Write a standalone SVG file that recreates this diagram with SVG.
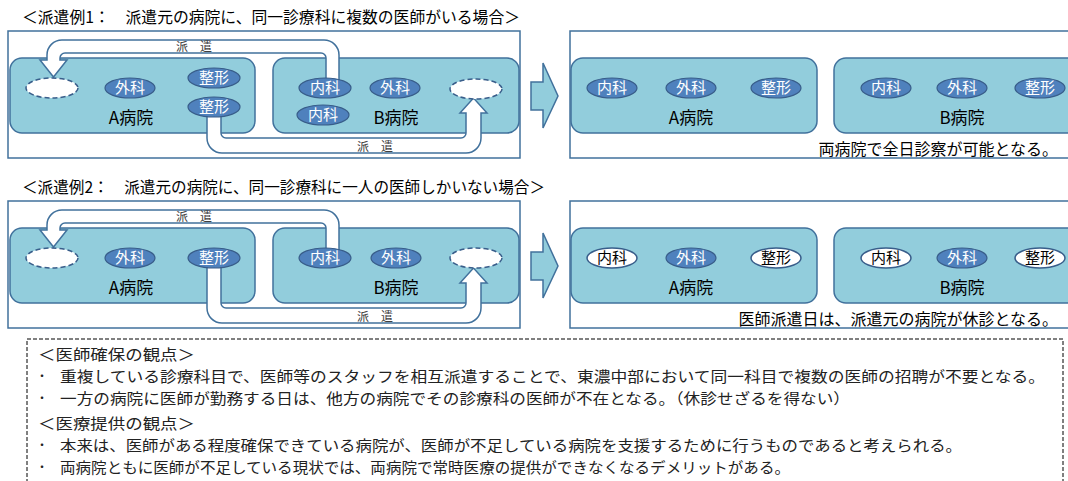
<svg xmlns="http://www.w3.org/2000/svg" width="1068" height="481" viewBox="0 0 1068 481">
<style>
text{font-family:"Noto Sans CJK JP","Noto Sans",sans-serif}
.outer{fill:#fff;stroke:#41719c;stroke-width:1.5}
.hosp{fill:#92cddc;stroke:#41719c;stroke-width:1.5}
.dept{fill:#4f81bd;stroke:#385d8a;stroke-width:1.2}
.deptw{fill:#fff;stroke:#385d8a;stroke-width:1.5}
.empty{fill:#fff;stroke:#385d8a;stroke-width:1.5;stroke-dasharray:5 3}
.arrow{fill:#fff;stroke:#41719c;stroke-width:1.5}
.big{fill:#92cddc;stroke:#41719c;stroke-width:1.5}
.dt{font-size:15px;fill:#fff;text-anchor:middle}
.dtb{font-size:15px;fill:#000;text-anchor:middle}
.ht{font-size:17px;fill:#000;text-anchor:middle}
.lbl{font-size:12px;fill:#404040;text-anchor:middle}
.title{font-size:16px;fill:#000}
.note{font-size:16px;fill:#000;text-anchor:end}
.body{font-size:15px;fill:#222}
.bul{font-size:12px;fill:#222;text-anchor:middle}
</style>

<!-- Section 1 -->
<text class="title" x="22" y="23" textLength="498" lengthAdjust="spacingAndGlyphs">＜派遣例1：　派遣元の病院に、同一診療科に複数の医師がいる場合＞</text>
<g id="frame1-left"><rect class="outer" x="8" y="31" width="512" height="127"/></g>
<g id="frame1-right"><rect class="outer" x="570" y="31" width="520" height="127"/>
<text class="note" x="1058" y="155">両病院で全日診察が可能となる。</text></g>
<g id="hospA1"><rect class="hosp" x="10" y="58" width="245" height="75" rx="12"/><text class="ht" x="131" y="124">A病院</text></g>
<g id="hospB1"><rect class="hosp" x="273" y="58" width="246" height="75" rx="12"/><text class="ht" x="396" y="124">B病院</text></g>
<g id="hospA1r"><rect class="hosp" x="571" y="58" width="246" height="75" rx="12"/><text class="ht" x="691" y="124">A病院</text></g>
<g id="hospB1r"><rect class="hosp" x="834" y="58" width="260" height="75" rx="12"/><text class="ht" x="962" y="124">B病院</text></g>
<g id="bigarrow1"><polygon class="big" points="531,82 543,82 543,63 558,96 543,128 543,110 531,110"/></g>

<g id="connectors1">
<path class="arrow" d="M339,84 L339,55 A15,15 0 0 0 324,40 L62,40 A15,15 0 0 0 47,55 L47,60 L40,60 L53.5,77 L67,60 L60,60 L60,58 A5,5 0 0 1 65,53 L321,53 A5,5 0 0 1 326,58 L326,84 Z"/>
<path class="arrow" d="M207,105 L207,138 A15,15 0 0 0 222,153 L466,153 A15,15 0 0 0 481,138 L481,113 L487,113 L473.5,98 L460,113 L466,113 L466,133 A5,5 0 0 1 461,138 L226,138 A5,5 0 0 1 221,133 L221,105 Z"/>
<text class="lbl" x="194" y="51">派　遣</text>
<text class="lbl" x="375" y="151">派　遣</text>
</g>

<g id="a1-empty"><ellipse class="empty" cx="52" cy="88" rx="26" ry="10"/></g>
<g id="a1-geka"><ellipse class="dept" cx="130" cy="88" rx="25" ry="10"/><text class="dt" x="130" y="93">外科</text></g>
<g id="a1-seikei1"><ellipse class="dept" cx="214" cy="78" rx="26" ry="10"/><text class="dt" x="214" y="83">整形</text></g>
<g id="a1-seikei2"><ellipse class="dept" cx="214" cy="107" rx="26" ry="10"/><text class="dt" x="214" y="112">整形</text></g>
<g id="b1-naika1"><ellipse class="dept" cx="325" cy="88" rx="26" ry="10"/><text class="dt" x="325" y="93">内科</text></g>
<g id="b1-geka"><ellipse class="dept" cx="395" cy="88" rx="25" ry="10"/><text class="dt" x="395" y="93">外科</text></g>
<g id="b1-naika2"><ellipse class="dept" cx="323" cy="115" rx="26" ry="10"/><text class="dt" x="323" y="120">内科</text></g>
<g id="b1-empty"><ellipse class="empty" cx="476" cy="89" rx="26" ry="10"/></g>

<g id="a1r-naika"><ellipse class="dept" cx="612" cy="88" rx="25" ry="10"/><text class="dt" x="612" y="93">内科</text></g>
<g id="a1r-geka"><ellipse class="dept" cx="691" cy="88" rx="25" ry="10"/><text class="dt" x="691" y="93">外科</text></g>
<g id="a1r-seikei"><ellipse class="dept" cx="776" cy="88" rx="25" ry="10"/><text class="dt" x="776" y="93">整形</text></g>
<g id="b1r-naika"><ellipse class="dept" cx="886" cy="88" rx="25" ry="10"/><text class="dt" x="886" y="93">内科</text></g>
<g id="b1r-geka"><ellipse class="dept" cx="962" cy="88" rx="25" ry="10"/><text class="dt" x="962" y="93">外科</text></g>
<g id="b1r-seikei"><ellipse class="dept" cx="1040" cy="88" rx="25" ry="10"/><text class="dt" x="1040" y="93">整形</text></g>

<!-- Section 2 -->
<text class="title" x="22" y="193" textLength="523" lengthAdjust="spacingAndGlyphs">＜派遣例2：　派遣元の病院に、同一診療科に一人の医師しかいない場合＞</text>
<g id="frame2-left"><rect class="outer" x="8" y="201" width="512" height="127"/></g>
<g id="frame2-right"><rect class="outer" x="570" y="201" width="520" height="127"/>
<text class="note" x="1058" y="325">医師派遣日は、派遣元の病院が休診となる。</text></g>
<g id="hospA2"><rect class="hosp" x="10" y="228" width="245" height="75" rx="12"/><text class="ht" x="131" y="294">A病院</text></g>
<g id="hospB2"><rect class="hosp" x="273" y="228" width="246" height="75" rx="12"/><text class="ht" x="396" y="294">B病院</text></g>
<g id="hospA2r"><rect class="hosp" x="571" y="228" width="246" height="75" rx="12"/><text class="ht" x="691" y="294">A病院</text></g>
<g id="hospB2r"><rect class="hosp" x="834" y="228" width="260" height="75" rx="12"/><text class="ht" x="962" y="294">B病院</text></g>
<g id="bigarrow2"><polygon class="big" points="531,252 543,252 543,233 558,266 543,298 543,280 531,280"/></g>

<g id="connectors2">
<path class="arrow" d="M339,254 L339,225 A15,15 0 0 0 324,210 L62,210 A15,15 0 0 0 47,225 L47,230 L40,230 L53.5,247 L67,230 L60,230 L60,228 A5,5 0 0 1 65,223 L321,223 A5,5 0 0 1 326,228 L326,254 Z"/>
<path class="arrow" d="M207,260 L207,308 A15,15 0 0 0 222,323 L466,323 A15,15 0 0 0 481,308 L481,283 L487,283 L473.5,268 L460,283 L466,283 L466,303 A5,5 0 0 1 461,308 L226,308 A5,5 0 0 1 221,303 L221,260 Z"/>
<text class="lbl" x="194" y="221">派　遣</text>
<text class="lbl" x="375" y="321">派　遣</text>
</g>

<g id="a2-empty"><ellipse class="empty" cx="52" cy="258" rx="26" ry="10"/></g>
<g id="a2-geka"><ellipse class="dept" cx="130" cy="258" rx="25" ry="10"/><text class="dt" x="130" y="263">外科</text></g>
<g id="a2-seikei"><ellipse class="dept" cx="214" cy="258" rx="26" ry="10"/><text class="dt" x="214" y="263">整形</text></g>
<g id="b2-naika"><ellipse class="dept" cx="325" cy="258" rx="26" ry="10"/><text class="dt" x="325" y="263">内科</text></g>
<g id="b2-geka"><ellipse class="dept" cx="396" cy="258" rx="25" ry="10"/><text class="dt" x="396" y="263">外科</text></g>
<g id="b2-empty"><ellipse class="empty" cx="476" cy="258" rx="26" ry="10"/></g>

<g id="a2r-naika"><ellipse class="deptw" cx="612" cy="258" rx="25" ry="10"/><text class="dtb" x="612" y="263">内科</text></g>
<g id="a2r-geka"><ellipse class="dept" cx="691" cy="258" rx="25" ry="10"/><text class="dt" x="691" y="263">外科</text></g>
<g id="a2r-seikei"><ellipse class="deptw" cx="776" cy="258" rx="25" ry="10"/><text class="dtb" x="776" y="263">整形</text></g>
<g id="b2r-naika"><ellipse class="deptw" cx="886" cy="258" rx="25" ry="10"/><text class="dtb" x="886" y="263">内科</text></g>
<g id="b2r-geka"><ellipse class="dept" cx="962" cy="258" rx="25" ry="10"/><text class="dt" x="962" y="263">外科</text></g>
<g id="b2r-seikei"><ellipse class="deptw" cx="1040" cy="258" rx="25" ry="10"/><text class="dtb" x="1040" y="263">整形</text></g>

<!-- Notes box -->
<g id="notes">
<rect x="27" y="339" width="1036" height="170" fill="none" stroke="#000" stroke-width="1" stroke-dasharray="4 2"/>
<text class="body" x="38" y="360" textLength="157" lengthAdjust="spacingAndGlyphs">＜医師確保の観点＞</text>
<text class="bul" x="42" y="381">・</text>
<text class="body" x="60" y="382" textLength="985" lengthAdjust="spacingAndGlyphs">重複している診療科目で、医師等のスタッフを相互派遣することで、東濃中部において同一科目で複数の医師の招聘が不要となる。</text>
<text class="bul" x="42" y="403">・</text>
<text class="body" x="60" y="404" textLength="790" lengthAdjust="spacingAndGlyphs">一方の病院に医師が勤務する日は、他方の病院でその診療科の医師が不在となる。（休診せざるを得ない）</text>
<text class="body" x="38" y="429" textLength="157" lengthAdjust="spacingAndGlyphs">＜医療提供の観点＞</text>
<text class="bul" x="42" y="450">・</text>
<text class="body" x="60" y="451" textLength="902" lengthAdjust="spacingAndGlyphs">本来は、医師がある程度確保できている病院が、医師が不足している病院を支援するために行うものであると考えられる。</text>
<text class="bul" x="42" y="472">・</text>
<text class="body" x="60" y="473" textLength="730" lengthAdjust="spacingAndGlyphs">両病院ともに医師が不足している現状では、両病院で常時医療の提供ができなくなるデメリットがある。</text>
</g>
</svg>
